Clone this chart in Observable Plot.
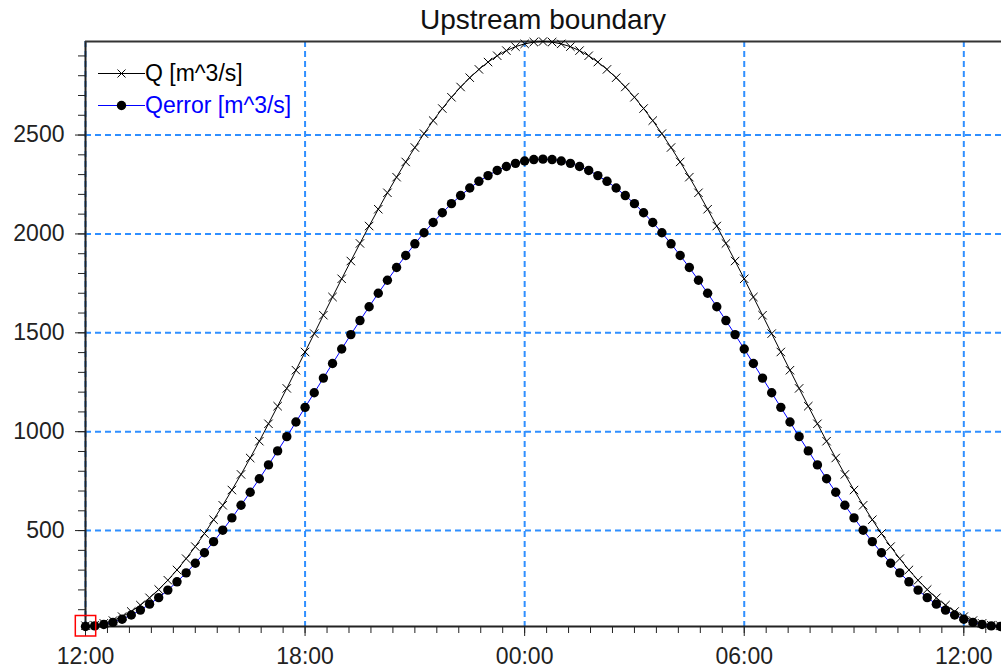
<!DOCTYPE html>
<html><head><meta charset="utf-8">
<script src="https://cdn.jsdelivr.net/npm/d3@7"></script>
<script src="https://cdn.jsdelivr.net/npm/@observablehq/plot@0.6"></script>
<style>
body{margin:0;background:#fff;font-family:"Liberation Sans",Arial,sans-serif;}
#wrap{position:relative;width:1001px;height:672px;overflow:hidden;background:#fff;}
#title{height:36px;line-height:40px;font-size:28px;text-align:center;padding-left:85px;box-sizing:border-box;color:#111;white-space:nowrap;}
#legend{position:absolute;left:98px;top:57px;font-size:23px;}
.row{height:32px;display:flex;align-items:center;white-space:nowrap;}
.row svg{display:block;}
</style></head><body>
<div id="wrap"><div id="title">Upstream boundary</div><div id="chart"></div><div id="legend"></div></div>
<script>
// ---- data ----
const startTime = "2000-01-01T12:00:00Z";
const stepMinutes = 15;
const seriesNames = ["Q [m^3/s]", "Qerror [m^3/s]"];
const Q = [
19, 22, 31, 45, 65, 91, 123, 160, 202, 249,
301, 358, 419, 485, 555, 628, 705, 784, 867, 952,
1040, 1129, 1219, 1311, 1403, 1496, 1589, 1681, 1773, 1863,
1952, 2040, 2125, 2208, 2287, 2364, 2437, 2507, 2573, 2634,
2691, 2743, 2790, 2832, 2869, 2901, 2927, 2947, 2961, 2970,
2973,
2970, 2961, 2947, 2927, 2901, 2869, 2832, 2790, 2743, 2691,
2634, 2573, 2507, 2437, 2364, 2287, 2208, 2125, 2040, 1952,
1863, 1773, 1681, 1589, 1496, 1403, 1311, 1219, 1129, 1040,
952, 867, 784, 705, 628, 555, 485, 419, 358, 301,
249, 202, 160, 123, 91, 65, 45, 31, 22, 19
];
const Qerror = [
15, 18, 25, 36, 52, 73, 98, 128, 161, 199,
241, 286, 335, 388, 444, 502, 564, 628, 694, 762,
832, 903, 975, 1049, 1123, 1197, 1271, 1345, 1418, 1491,
1562, 1632, 1700, 1766, 1830, 1891, 1950, 2006, 2058, 2107,
2153, 2194, 2232, 2266, 2295, 2321, 2341, 2357, 2369, 2376,
2378,
2376, 2369, 2357, 2341, 2321, 2295, 2266, 2232, 2194, 2153,
2107, 2058, 2006, 1950, 1891, 1830, 1766, 1700, 1632, 1562,
1491, 1418, 1345, 1271, 1197, 1123, 1049, 975, 903, 832,
762, 694, 628, 564, 502, 444, 388, 335, 286, 241,
199, 161, 128, 98, 73, 52, 36, 25, 18, 15
];
const xTickHours = [0, 6, 12, 18, 24];
const xTickLabels = ["12:00", "18:00", "00:00", "06:00", "12:00"];
const yTicks = [500, 1000, 1500, 2000, 2500];
const yMinorTicks = d3.range(100, 3000, 100);
const xMinorHours = d3.range(0, 24.9, 0.6);
const yDomain = [15, 2973];
const xSpanHours = 25.03;

// ---- build ----
const t0 = Date.parse(startTime);
const H = 3600e3;
const data = Q.map((q, i) => ({t: new Date(t0 + i * stepMinutes * 60e3), q, e: Qerror[i]}));
const majorX = xTickHours.map(h => new Date(t0 + h * H));
const minorX = xMinorHours.map(h => new Date(t0 + h * H));
const gridStyle = {stroke: "#2f8fff", strokeOpacity: 1, strokeWidth: 2, strokeDasharray: "6,4"};

const chart = Plot.plot({
  width: 1001, height: 636,
  marginLeft: 85, marginRight: 0, marginTop: 5, marginBottom: 46,
  x: {type: "utc", domain: [new Date(t0), new Date(t0 + xSpanHours * H)], label: null},
  y: {domain: yDomain, label: null},
  style: {fontFamily: '"Liberation Sans", Arial, sans-serif', fontSize: "23px", color: "#222", background: "white", overflow: "visible"},
  marks: [
    Plot.gridX(majorX, gridStyle),
    Plot.gridY(yTicks, gridStyle),
    Plot.axisX(minorX, {tickSize: 7, tickFormat: () => "", stroke: "#222", label: null}),
    Plot.axisX(majorX, {tickSize: 10, tickPadding: 11, fontSize: 23, stroke: "#222", label: null,
      tickFormat: d => xTickLabels[majorX.findIndex(m => +m === +d)]}),
    Plot.axisY(yMinorTicks, {tickSize: 7, tickFormat: () => "", stroke: "#222", label: null}),
    Plot.axisY(yTicks, {tickSize: 10, tickPadding: 11, fontSize: 23, stroke: "#222", label: null, tickFormat: d => String(d)}),
    Plot.ruleX([new Date(t0)], {stroke: "#222", strokeWidth: 2}),
    Plot.ruleY([yDomain[0]], {stroke: "#222", strokeWidth: 2}),
    Plot.ruleY([yDomain[1]], {stroke: "#333", strokeWidth: 2}),
    Plot.line(data, {x: "t", y: "q", stroke: "black", strokeWidth: 1}),
    Plot.dot(data, {x: "t", y: "q", symbol: "times", r: 3.9, stroke: "black", strokeWidth: 1}),
    Plot.line(data, {x: "t", y: "e", stroke: "#0000ff", strokeWidth: 1}),
    Plot.dot(data, {x: "t", y: "e", r: 4.7, fill: "black", stroke: "none"}),
    Plot.dot([data[0]], {x: "t", y: "q", symbol: "square", r: 11.5, stroke: "red", fill: "none", strokeWidth: 1.5})
  ]
});
document.getElementById("chart").append(chart);

// ---- legend ----
const legend = d3.select("#legend");
const rows = [
  {name: seriesNames[0], color: "black", line: "black", marker: "times"},
  {name: seriesNames[1], color: "#0000ff", line: "#0000ff", marker: "dot"}
];
for (const r of rows) {
  const row = legend.append("div").attr("class", "row");
  const s = row.append("svg").attr("width", 47).attr("height", 32);
  s.append("line").attr("x1", 0).attr("x2", 47).attr("y1", 16.5).attr("y2", 16.5).attr("stroke", r.line).attr("stroke-width", 1);
  if (r.marker === "times") {
    s.append("path").attr("d", "M19.5,12.5L27.5,20.5M19.5,20.5L27.5,12.5").attr("stroke", "black").attr("stroke-width", 1);
  } else {
    s.append("circle").attr("cx", 23.5).attr("cy", 16.5).attr("r", 4.7).attr("fill", "black");
  }
  row.append("span").style("color", r.color).text(r.name);
}
</script>
</body></html>
